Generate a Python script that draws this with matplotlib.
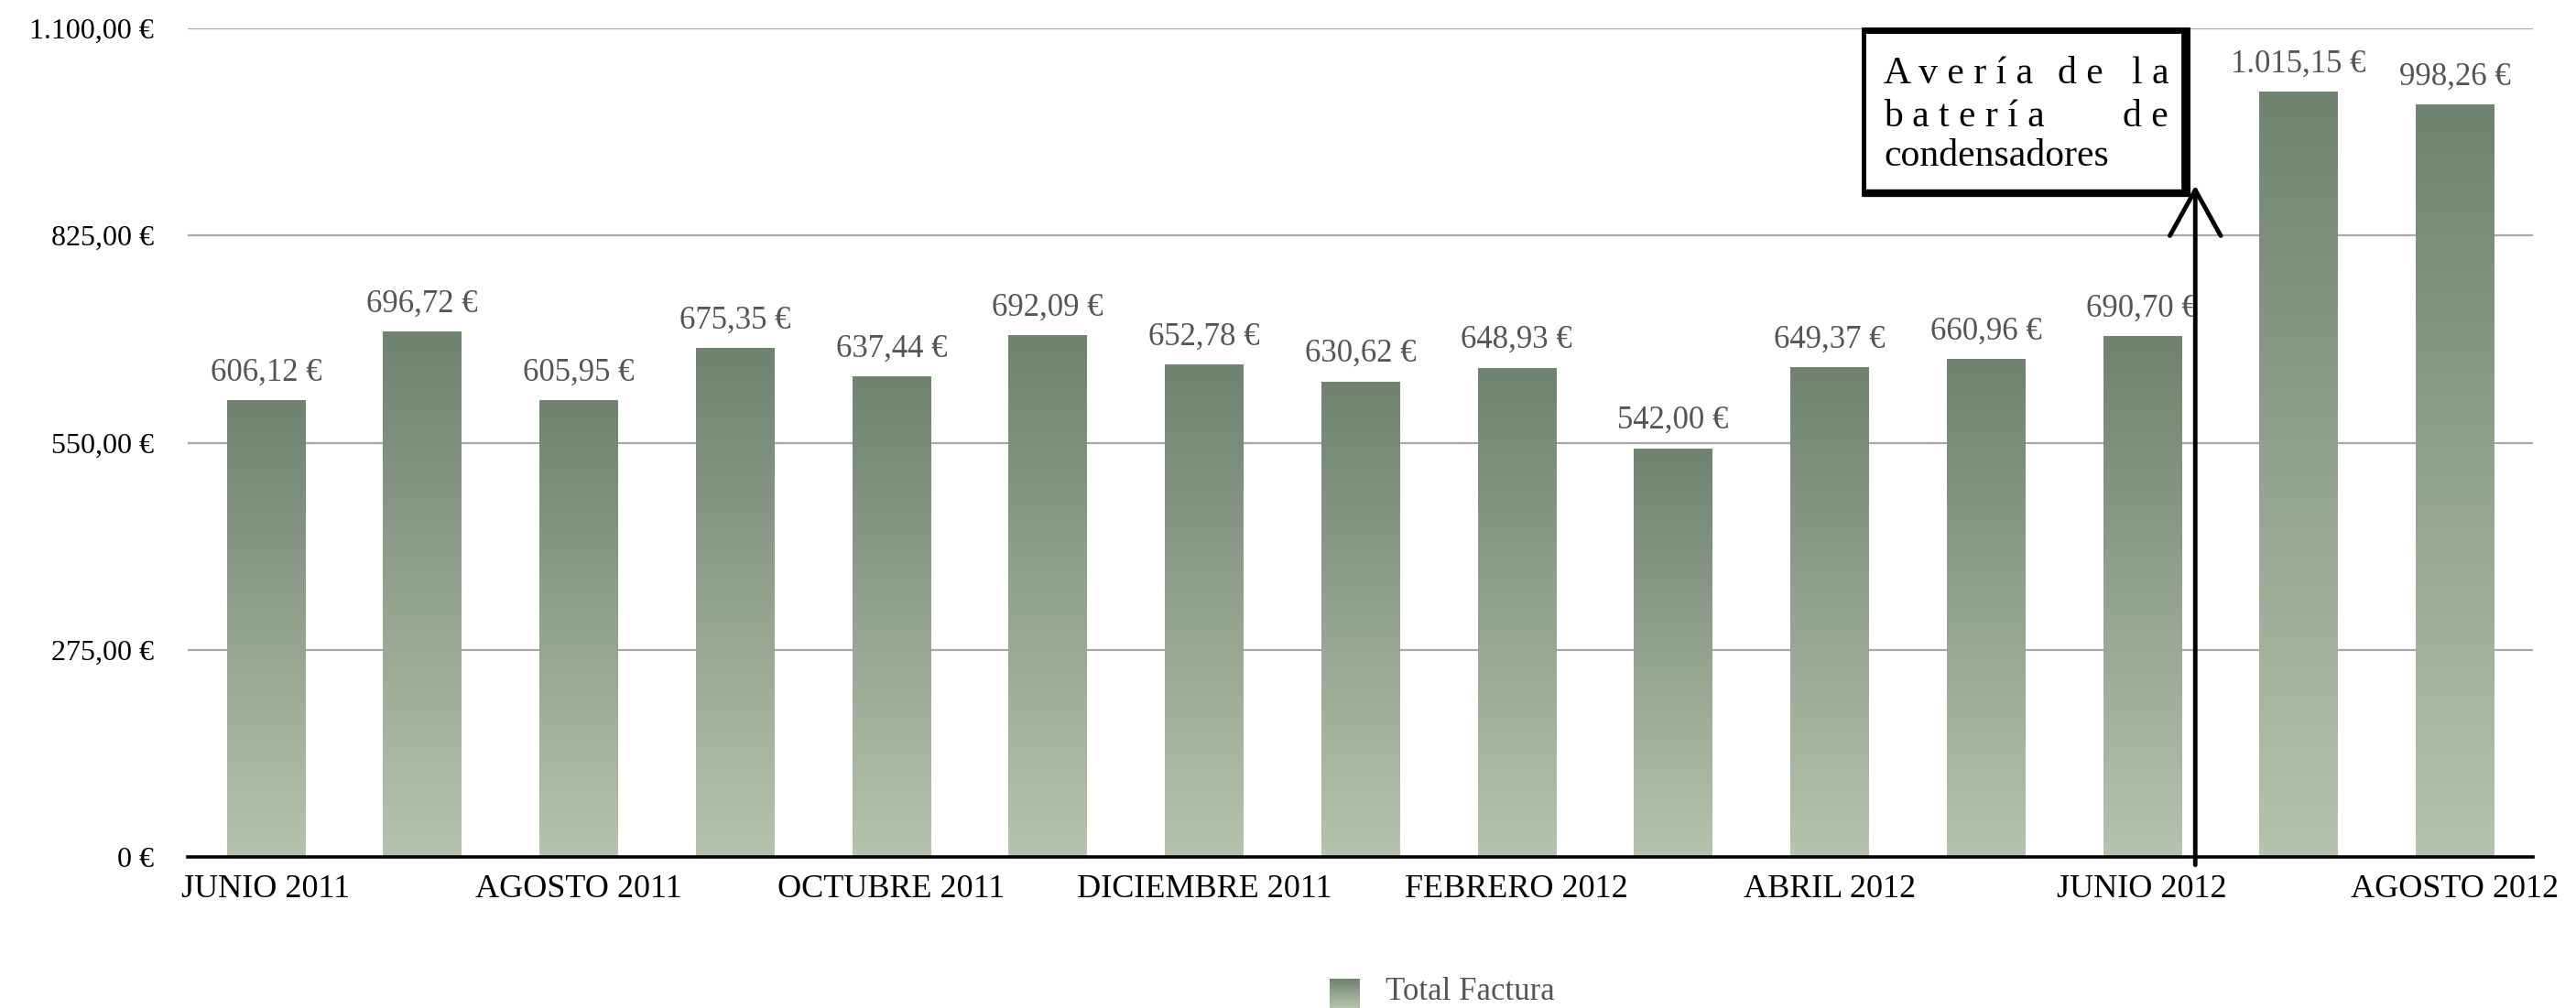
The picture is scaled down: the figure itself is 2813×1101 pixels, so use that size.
import numpy as np
import matplotlib
matplotlib.use('Agg')
import matplotlib.pyplot as plt
from matplotlib.patches import Rectangle

# monthly invoice totals, June 2011 .. August 2012
meses = ['JUNIO 2011', 'JULIO 2011', 'AGOSTO 2011', 'SEPTIEMBRE 2011', 'OCTUBRE 2011',
         'NOVIEMBRE 2011', 'DICIEMBRE 2011', 'ENERO 2012', 'FEBRERO 2012', 'MARZO 2012',
         'ABRIL 2012', 'MAYO 2012', 'JUNIO 2012', 'JULIO 2012', 'AGOSTO 2012']
total_factura = [606.12, 696.72, 605.95, 675.35, 637.44, 692.09, 652.78, 630.62,
                 648.93, 542.00, 649.37, 660.96, 690.70, 1015.15, 998.26]
y_ticks = [0, 275, 550, 825, 1100]
y_tick_labels = ['0 €', '275,00 €', '550,00 €', '825,00 €', '1.100,00 €']

plt.rcParams['font.family'] = ['Liberation Serif', 'DejaVu Serif']

def euro(v):
    s = '{:,.2f}'.format(v)
    return s.replace(',', 'X').replace('.', ',').replace('X', '.') + ' €'

top_col = np.array([0x6f, 0x83, 0x6f]) / 255.0
bot_col = np.array([0xb6, 0xc3, 0xae]) / 255.0
grad = np.linspace(0, 1, 256)[:, None, None]
grad_img = top_col * (1 - grad) + bot_col * grad   # row 0 = top

fig = plt.figure(figsize=(28.13, 11.01), dpi=100)
ax = fig.add_axes([0.0729, 0.1499, 0.9104, 0.8219])

x = np.arange(len(meses))
width = 0.5
bars = ax.bar(x, total_factura, width, color='none', edgecolor='none', zorder=2)
for b, v in zip(bars, total_factura):
    x0 = b.get_x()
    ax.imshow(grad_img, extent=(x0, x0 + b.get_width(), 0, v), aspect='auto',
              interpolation='bilinear', zorder=2)
    ax.text(b.get_x() + b.get_width() / 2, v + 17, euro(v), ha='center', va='bottom',
            fontsize=25, color='#555555', zorder=3)

ax.set_xlim(-0.5, len(meses) - 0.5)
ax.set_ylim(0, 1100)
ax.set_yticks(y_ticks)
ax.set_yticklabels(y_tick_labels, fontsize=23)
ax.set_xticks(x[::2])
ax.set_xticklabels(meses[::2], fontsize=26)
ax.tick_params(axis='y', length=0, pad=27)
ax.tick_params(axis='x', length=0, pad=14)

ax.yaxis.grid(True, color='#a8a8a8', linewidth=1.6, zorder=0)
ax.set_axisbelow(True)
for s in ['top', 'right', 'left']:
    ax.spines[s].set_visible(False)
ax.spines['bottom'].set_linewidth(2.6)
ax.spines['bottom'].set_zorder(4)

# annotation box
box = Rectangle((10.22, 880), 2.07, 219, facecolor='white', edgecolor='black',
                linewidth=3.5, zorder=6, clip_on=False)
ax.add_patch(box)
ax.plot([12.28, 12.28], [878, 1100], color='black', linewidth=7, zorder=7,
        solid_capstyle='butt', clip_on=False)
ax.plot([10.22, 12.30], [881, 881], color='black', linewidth=6, zorder=7,
        solid_capstyle='butt', clip_on=False)
ax.plot([10.22, 12.30], [1098, 1098], color='black', linewidth=5, zorder=7,
        solid_capstyle='butt', clip_on=False)

kw = dict(fontsize=30, color='black', zorder=8, va='center')
ax.text(10.35, 1040, 'A v e r í a', ha='left', **kw)
ax.text(11.46, 1040, 'd e', ha='left', **kw)
ax.text(12.17, 1040, 'l a', ha='right', **kw)
ax.text(10.35, 983, 'b a t e r í a', ha='left', **kw)
ax.text(12.17, 983, 'd e', ha='right', **kw)
ax.text(10.35, 930, 'condensadores', ha='left', **kw)

ax.annotate('', xy=(12.34, 895), xytext=(12.34, -14), annotation_clip=False,
            arrowprops=dict(arrowstyle='->,head_length=1.8,head_width=1.0',
                            mutation_scale=20, color='black', lw=3.5), zorder=9)

# legend at the bottom
lax = fig.add_axes([1452 / 2813, 0.0, 33 / 2813, 32 / 1101])
lax.imshow(grad_img, aspect='auto', interpolation='bilinear')
lax.axis('off')
fig.text(1513 / 2813, 1 - 1083 / 1101, 'Total Factura', fontsize=25, color='#555555',
         ha='left', va='center')

fig.savefig('out.png', dpi=100)
